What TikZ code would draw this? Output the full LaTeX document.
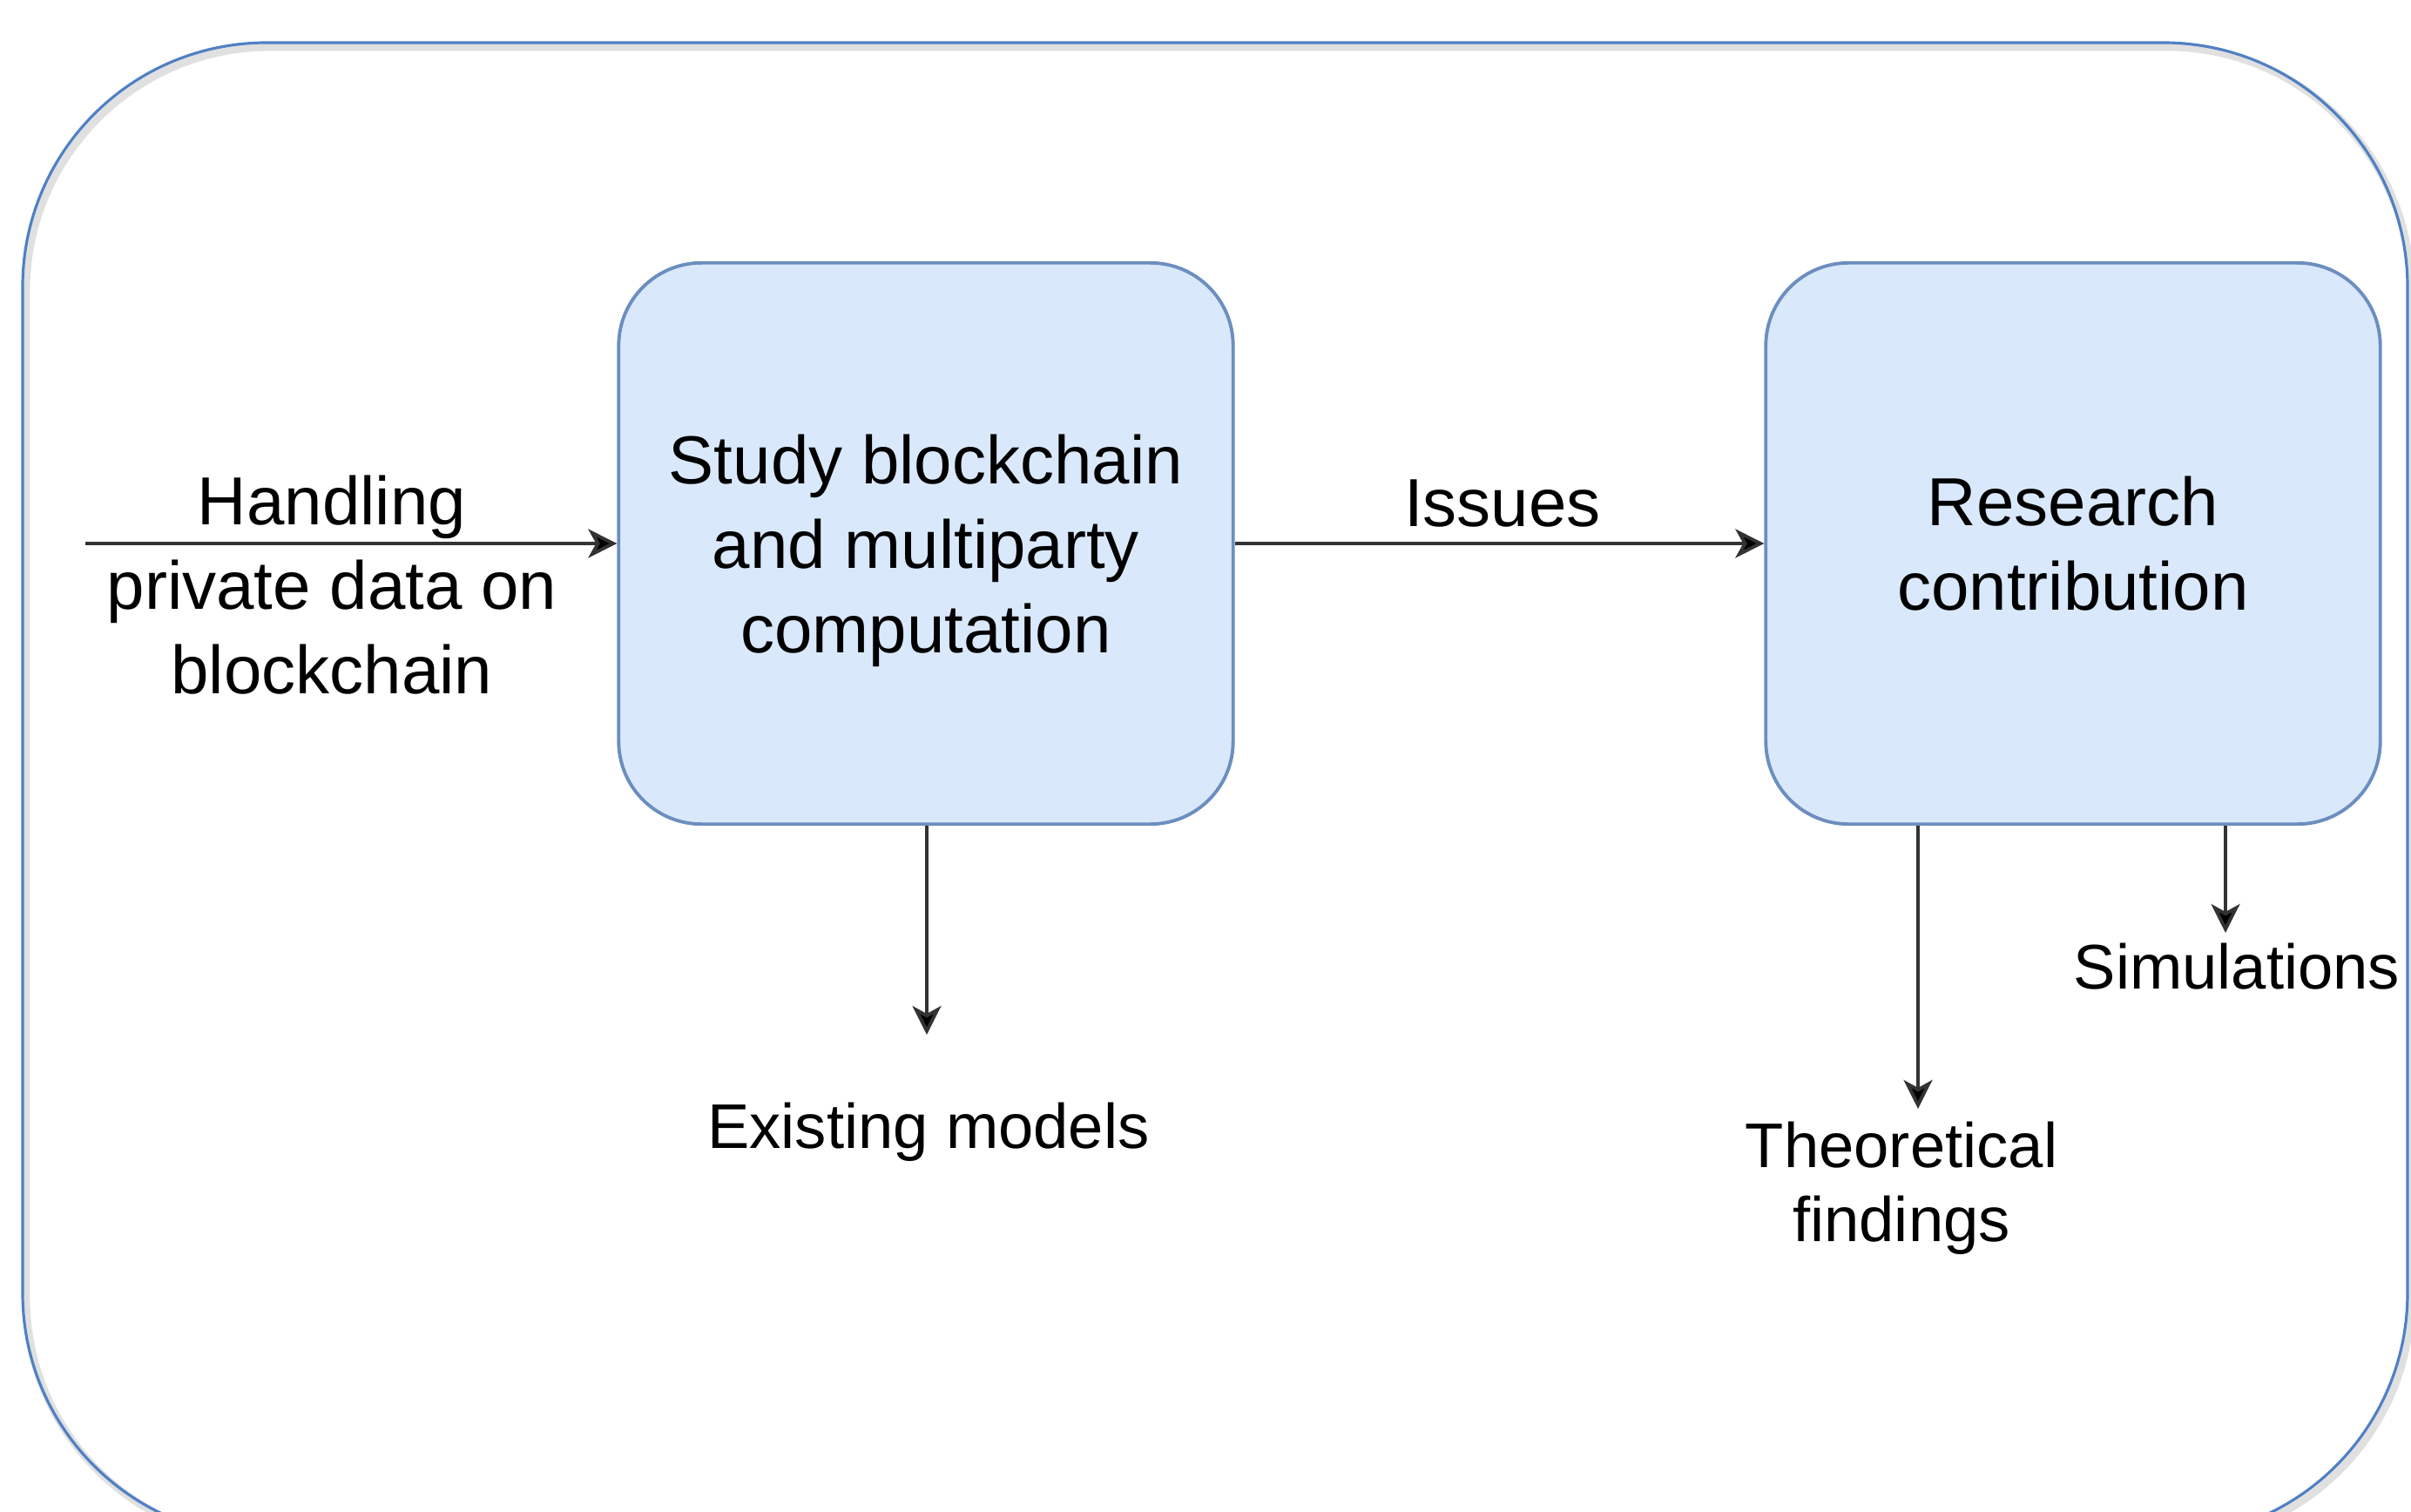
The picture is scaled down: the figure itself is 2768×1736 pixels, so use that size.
\documentclass[tikz,border=0pt]{standalone}
\usepackage{fontspec}
\setmainfont{Liberation Sans}
\usetikzlibrary{arrows.meta}
\definecolor{framecol}{HTML}{5080C4}
\definecolor{boxfill}{HTML}{DAE8FC}
\definecolor{boxline}{HTML}{6C8EBF}
\definecolor{arrcol}{HTML}{333333}
\begin{document}
\begin{tikzpicture}[x=0.01cm,y=-0.01cm,
  bigfont/.style={font=\fontsize{22.2}{27.6}\selectfont},
  smallfont/.style={font=\fontsize{20.6}{24.2}\selectfont},
  block/.style={draw=boxline, fill=boxfill, line width=1.1pt, rounded corners=0.95cm,
    minimum width=7.05cm, minimum height=6.44cm, inner sep=0pt, align=center, bigfont},
  lbl/.style={inner sep=0pt, align=center, text=black},
  arr/.style={draw=arrcol, line width=1.1pt, -{Stealth[length=0.33cm,width=0.33cm,inset=0.09cm,fill=black]}}]
\useasboundingbox (0,0) rectangle (2768,1736);
% outer frame with soft shadow
\draw[black!12, line width=2.5pt, rounded corners=2.8cm] (30,54) rectangle (2768,1770);
\draw[framecol, line width=0.9pt, rounded corners=2.8cm] (26,49) rectangle (2764,1765);
% blocks
\node[block] (study) at (1063,624) {Study blockchain\\and multiparty\\\smash{computation}};
\node[block] (research) at (2380,624) {Research\\contribution};
% labels
\node[lbl, bigfont] (handling) at (381,672) {Handling\\private data on\\blockchain};
\node[lbl, bigfont, anchor=base] (issues) at (1725,604) {Issues};
\node[lbl, smallfont, anchor=base] (existing) at (1066,1318) {Existing models};
\node[lbl, smallfont] (theo) at (2183,1364) {Theoretical\\findings};
\node[lbl, smallfont, anchor=base] (sim) at (2568,1135) {Simulations};
% connector ends
\coordinate (src) at (98,624);
\coordinate (emtip) at (1064,1188);
\coordinate (thtip) at (2202,1273);
\coordinate (simtip) at (2555,1071);
% connectors
\draw[arr] (src) -- (study.west);
\draw[arr] (study.east) -- (research.west);
\draw[arr] (study.south -| emtip) -- (emtip);
\draw[arr] (research.south -| thtip) -- (thtip);
\draw[arr] (research.south -| simtip) -- (simtip);
\end{tikzpicture}
\end{document}
